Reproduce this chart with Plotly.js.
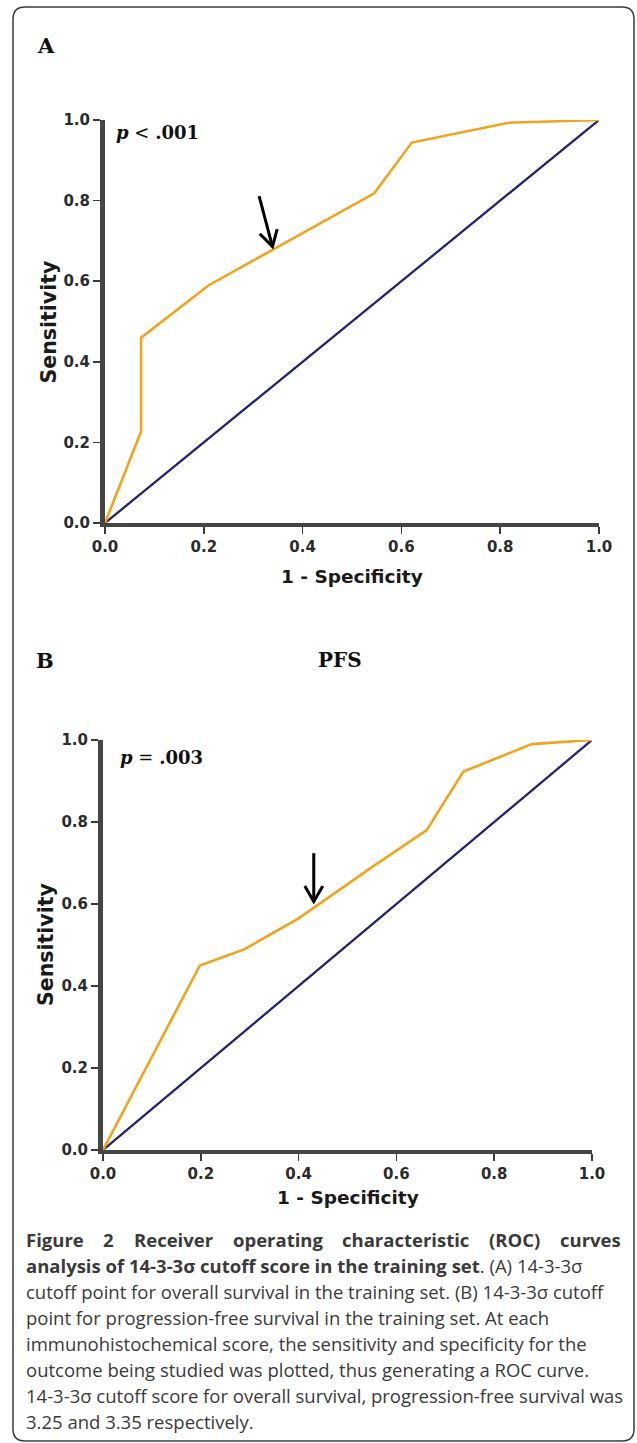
<!DOCTYPE html>
<html>
<head>
<meta charset="utf-8">
<script src="https://cdn.plot.ly/plotly-3.0.1.min.js"></script>
<style>
  html, body { margin: 0; padding: 0; background: #ffffff; }
  #chart { width: 637px; height: 1443px; }
</style>
</head>
<body>
<div id="chart"></div>
<script>
// ---------------- DATA ----------------
// Panel A: overall survival ROC (1 - specificity, sensitivity)
const fprOS = [0, 0.073, 0.073, 0.21, 0.545, 0.621, 0.817, 1.0];
const tprOS = [0, 0.227, 0.46, 0.59, 0.818, 0.944, 0.993, 1.0];
// Panel B: progression-free survival ROC
const fprPFS = [0, 0.198, 0.29, 0.365, 0.40, 0.46, 0.55, 0.662, 0.737, 0.877, 1.0];
const tprPFS = [0, 0.45, 0.49, 0.541, 0.565, 0.615, 0.69, 0.78, 0.923, 0.99, 1.0];
// Reference (chance) line
const refX = [0, 1];
const refY = [0, 1];
// Cutoff arrows: [tail, head]
const arrowOSx = [0.312, 0.339];
const arrowOSy = [0.811, 0.686];
const arrowPFSx = [0.431, 0.431];
const arrowPFSy = [0.724, 0.606];
// Ticks
const tickVals = [0, 0.2, 0.4, 0.6, 0.8, 1.0];
const tickText = ['0.0', '0.2', '0.4', '0.6', '0.8', '1.0'];
// Texts
const xTitle = '1 - Specificity';
const yTitle = 'Sensitivity';
const pOS = '<b><i>p</i></b> &lt; <b>.001</b>';
const pPFS = '<b><i>p</i></b> = <b>.003</b>';
const captionLine1Words = ['Figure', '2', 'Receiver', 'operating', 'characteristic', '(ROC)', 'curves'];
const captionLines = [
  null, // line 1: justified words above
  '<b>analysis of 14-3-3σ cutoff score in the training set</b>. (A) 14-3-3σ',
  'cutoff point for overall survival in the training set. (B) 14-3-3σ cutoff',
  'point for progression-free survival in the training set. At each',
  'immunohistochemical score, the sensitivity and specificity for the',
  'outcome being studied was plotted, thus generating a ROC curve.',
  '14-3-3σ cutoff score for overall survival, progression-free survival was',
  '3.25 and 3.35 respectively.'
];

// ---------------- LAYOUT HELPERS ----------------
const W = 637, H = 1443;
const px = v => v / W;
const py = v => 1 - v / H;

const A = { x0: 105, x1: 599, yTop: 120, yBot: 523 };
const B = { x0: 103, x1: 592, yTop: 740, yBot: 1150 };

const tickFont = { family: 'DejaVu Sans', size: 15, color: '#2b2b2b', weight: 'bold' };
function axisStyle(extra) {
  return Object.assign({
    range: [0, 1], showline: true, linecolor: '#454545', linewidth: 4,
    ticks: 'outside', ticklen: 7, tickwidth: 1.5, tickcolor: '#3a3a3a',
    showgrid: false, zeroline: false, tickvals: tickVals, ticktext: tickText,
    tickfont: tickFont, fixedrange: true
  }, extra);
}

const orange = '#F2A31C';
const navy = '#23236F';

const traces = [
  { x: refX, y: refY, xaxis: 'x', yaxis: 'y', mode: 'lines', line: { color: navy, width: 2.3 }, hoverinfo: 'skip', cliponaxis: false },
  { x: fprOS, y: tprOS, xaxis: 'x', yaxis: 'y', mode: 'lines', line: { color: orange, width: 2.6 }, hoverinfo: 'skip', cliponaxis: false },
  { x: refX, y: refY, xaxis: 'x2', yaxis: 'y2', mode: 'lines', line: { color: navy, width: 2.3 }, hoverinfo: 'skip', cliponaxis: false },
  { x: fprPFS, y: tprPFS, xaxis: 'x2', yaxis: 'y2', mode: 'lines', line: { color: orange, width: 2.6 }, hoverinfo: 'skip', cliponaxis: false }
];

// arrow shapes (shaft + open chevron head), computed in pixel space then mapped to data
function arrowShapes(xs, ys, P, xref, yref) {
  const sx = P.x1 - P.x0, sy = P.yBot - P.yTop;
  const tx = xs[0] * sx, ty = -ys[0] * sy;
  const hx = xs[1] * sx, hy = -ys[1] * sy;
  const dx = hx - tx, dy = hy - ty, L = Math.hypot(dx, dy);
  const ux = dx / L, uy = dy / L;
  const wing = 18, ang = 30 * Math.PI / 180;
  const wings = [ang, -ang].map(a => {
    const bx = -ux * Math.cos(a) + uy * Math.sin(a);
    const by = -uy * Math.cos(a) - ux * Math.sin(a);
    return [(hx + bx * wing) / sx, -(hy + by * wing) / sy];
  });
  const line = { color: '#000000', width: 3 };
  return [
    { type: 'line', xref, yref, x0: xs[0], y0: ys[0], x1: xs[1], y1: ys[1], line },
    { type: 'path', xref, yref, line,
      path: `M ${wings[0][0]},${wings[0][1]} L ${xs[1]},${ys[1]} L ${wings[1][0]},${wings[1][1]}` }
  ];
}

// rounded frame
function roundedRect(l, t, r, b, rad) {
  const X = v => px(v), Y = v => py(v);
  return `M ${X(l + rad)},${Y(t)} L ${X(r - rad)},${Y(t)} Q ${X(r)},${Y(t)} ${X(r)},${Y(t + rad)} ` +
    `L ${X(r)},${Y(b - rad)} Q ${X(r)},${Y(b)} ${X(r - rad)},${Y(b)} L ${X(l + rad)},${Y(b)} ` +
    `Q ${X(l)},${Y(b)} ${X(l)},${Y(b - rad)} L ${X(l)},${Y(t + rad)} Q ${X(l)},${Y(t)} ${X(l + rad)},${Y(t)} Z`;
}

const shapes = [
  { type: 'path', xref: 'paper', yref: 'paper', path: roundedRect(13, 7, 634, 1441, 12), line: { color: '#3a3a3a', width: 1.5 }, layer: 'below' }
].concat(arrowShapes(arrowOSx, arrowOSy, A, 'x', 'y'))
 .concat(arrowShapes(arrowPFSx, arrowPFSy, B, 'x2', 'y2'));

const serif = 'DejaVu Serif';
const xTitleFont = { family: 'DejaVu Sans', size: 18.5, color: '#1a1a1a', weight: 'bold' };
const yTitleFont = { family: 'DejaVu Sans', size: 20.5, color: '#1a1a1a', weight: 'bold' };
const capSize = 18.5;
const capFont = { family: 'Open Sans', size: capSize, color: '#3a3a3a' };

function ann(text, x, y, font, extra) {
  return Object.assign({ text, x: px(x), y: py(y), xref: 'paper', yref: 'paper', xanchor: 'center', yanchor: 'middle', showarrow: false, font }, extra || {});
}

const annotations = [
  ann('A', 46, 45, { family: serif, size: 21, color: '#111', weight: 'bold' }),
  ann('B', 45, 660, { family: serif, size: 21, color: '#111', weight: 'bold' }),
  ann('PFS', 340, 660, { family: serif, size: 20, color: '#111', weight: 'bold' }),
  ann(pOS, 114, 132, { family: serif, size: 18, color: '#111' }, { xanchor: 'left' }),
  ann(pPFS, 118, 758, { family: serif, size: 18, color: '#111' }, { xanchor: 'left' }),
  ann(xTitle, (A.x0 + A.x1) / 2, 576, xTitleFont),
  ann(xTitle, (B.x0 + B.x1) / 2, 1197, xTitleFont),
  ann(yTitle, 48, (A.yTop + A.yBot) / 2, yTitleFont, { textangle: -90 }),
  ann(yTitle, 46, (B.yTop + B.yBot) / 2, yTitleFont, { textangle: -90 })
];

// caption
const capLeft = 25, capRight = 620, capTop = 1239, capStep = 26;
// justify first line: measure bold word widths with the same font
const ctx = document.createElement('canvas').getContext('2d');
ctx.font = `bold ${capSize}px "Open Sans"`;
const wordW = captionLine1Words.map(w => ctx.measureText(w).width);
const gap = (capRight - capLeft - wordW.reduce((a, b) => a + b, 0)) / (captionLine1Words.length - 1);
let cursor = capLeft;
captionLine1Words.forEach((w, i) => {
  annotations.push(ann('<b>' + w + '</b>', cursor, capTop, capFont, { xanchor: 'left', borderpad: 0 }));
  cursor += wordW[i] + gap;
});
captionLines.forEach((t, i) => {
  if (t === null) return;
  annotations.push(ann(t, capLeft, capTop + i * capStep, capFont, { xanchor: 'left', align: 'left', borderpad: 0 }));
});

const layout = {
  width: W, height: H, margin: { l: 0, r: 0, t: 0, b: 0 },
  paper_bgcolor: '#ffffff', plot_bgcolor: 'rgba(0,0,0,0)', showlegend: false,
  xaxis: axisStyle({ domain: [px(A.x0), px(A.x1)], anchor: 'y' }),
  yaxis: axisStyle({ domain: [py(A.yBot), py(A.yTop)], anchor: 'x', linewidth: 5 }),
  xaxis2: axisStyle({ domain: [px(B.x0), px(B.x1)], anchor: 'y2' }),
  yaxis2: axisStyle({ domain: [py(B.yBot), py(B.yTop)], anchor: 'x2', linewidth: 5 }),
  shapes: shapes,
  annotations: annotations
};

Plotly.newPlot('chart', traces, layout, { staticPlot: true, displayModeBar: false });
</script>
</body>
</html>
